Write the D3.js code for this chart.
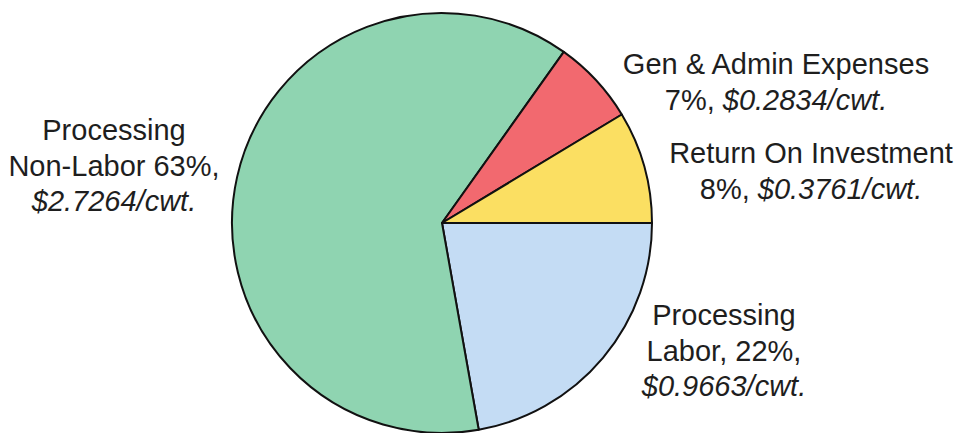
<!DOCTYPE html>
<html>
<head>
<meta charset="utf-8">
<script src="https://cdn.jsdelivr.net/npm/d3@7"></script>
<style>
  html, body { margin: 0; padding: 0; background: #fff; }
  svg { display: block; }
</style>
</head>
<body>
<svg id="chart" width="959" height="433"></svg>
<script>
// Categories, in clockwise order starting at 3 o'clock
const categories = ["Processing Labor", "Processing Non-Labor", "Gen & Admin Expenses", "Return On Investment"];
// Cost per cwt, as labelled (slice sizes)
const costPerCwt = [0.9663, 2.7264, 0.2834, 0.3761];
// Percent labels as printed
const percentLabels = ["22%", "63%", "7%", "8%"];
const colors = ["#c4dcf4", "#8fd4b1", "#f2696f", "#fbdf62"];

// Label lines: [text, italic?] segments per line
const labelLines = [
  [[["Processing", false]], [["Labor, " + percentLabels[0] + ",", false]], [["$" + costPerCwt[0].toFixed(4) + "/cwt.", true]]],
  [[["Processing", false]], [["Non-Labor " + percentLabels[1] + ",", false]], [["$" + costPerCwt[1].toFixed(4) + "/cwt.", true]]],
  [[["Gen & Admin Expenses", false]], [[percentLabels[2] + ", ", false], ["$" + costPerCwt[2].toFixed(4) + "/cwt.", true]]],
  [[["Return On Investment", false]], [[percentLabels[3] + ", ", false], ["$" + costPerCwt[3].toFixed(4) + "/cwt.", true]]]
];
const labelAnchors = [[724, 325], [114, 140], [776, 74], [811, 163]];

const svg = d3.select("#chart");
const cx = 442, cy = 223, r = 210;

const pie = d3.pie().sort(null).value(d => d)
  .startAngle(Math.PI / 2).endAngle(Math.PI / 2 + 2 * Math.PI);
const arc = d3.arc().innerRadius(0).outerRadius(r);

const g = svg.append("g").attr("transform", `translate(${cx},${cy})`);
g.selectAll("path")
  .data(pie(costPerCwt))
  .join("path")
  .attr("d", arc)
  .attr("fill", (d, i) => colors[i])
  .attr("stroke", "#111")
  .attr("stroke-width", 2)
  .attr("stroke-linejoin", "round");

const lineH = 35.5;
labelLines.forEach((lines, i) => {
  const t = svg.append("text")
    .attr("x", labelAnchors[i][0])
    .attr("y", labelAnchors[i][1])
    .attr("text-anchor", "middle")
    .attr("font-family", "'Liberation Sans', Arial, sans-serif")
    .attr("font-size", 29)
    .attr("fill", "#1e1e1e");
  lines.forEach((segs, li) => {
    segs.forEach((s, si) => {
      const ts = t.append("tspan").text(s[0]).attr("font-style", s[1] ? "italic" : "normal");
      if (si === 0) {
        ts.attr("x", labelAnchors[i][0]).attr("dy", li === 0 ? 0 : lineH);
      }
    });
  });
});
</script>
</body>
</html>
